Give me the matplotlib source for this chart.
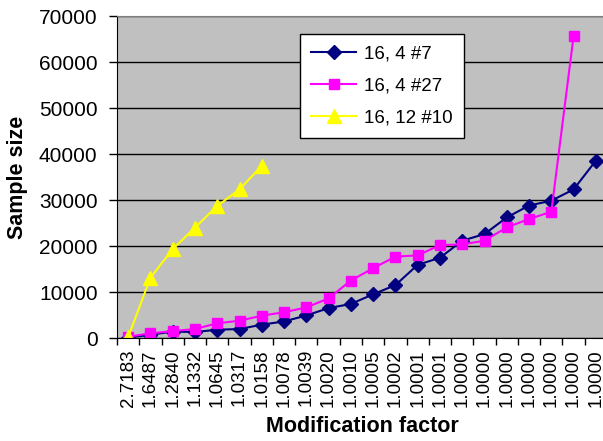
import matplotlib.pyplot as plt
import numpy as np

plt.rcParams['font.family'] = ['Liberation Sans', 'DejaVu Sans']

# modification factors along the x axis
factors = ['2.7183', '1.6487', '1.2840', '1.1332', '1.0645', '1.0317', '1.0158',
           '1.0078', '1.0039', '1.0020', '1.0010', '1.0005', '1.0002', '1.0001',
           '1.0001', '1.0000', '1.0000', '1.0000', '1.0000', '1.0000', '1.0000',
           '1.0000']

# sample sizes per run
run_16_4_7 = [100, 700, 1400, 1300, 1800, 1950, 2900, 3600, 4900, 6500, 7400,
              9500, 11500, 15900, 17450, 21150, 22600, 26200, 28800, 29850,
              32300, 38550]
run_16_4_27 = [300, 1000, 1500, 1950, 3200, 3750, 4850, 5600, 6650, 8600, 12500,
               15150, 17700, 17950, 20200, 20350, 21150, 24050, 25850, 27450,
               65650]
run_16_12_10 = [150, 13100, 19300, 24000, 28700, 32300, 37450]

x = np.arange(len(factors))

fig = plt.figure(figsize=(6.03, 4.41), dpi=100)
ax = fig.add_axes([117 / 603, 103 / 441, 490 / 603, 322 / 441])
ax.set_facecolor('#C0C0C0')

ax.plot(x[:len(run_16_4_7)], run_16_4_7, color='#000080', marker='D', ms=7,
        lw=1.5, label='16, 4 #7')
ax.plot(x[:len(run_16_4_27)], run_16_4_27, color='#FF00FF', marker='s', ms=7.5,
        lw=1.5, label='16, 4 #27')
ax.plot(x[:len(run_16_12_10)], run_16_12_10, color='#FFFF00', marker='^', ms=10,
        lw=1.5, label='16, 12 #10')

ax.set_xlim(-0.5, len(factors) - 0.5)
ax.set_ylim(0, 70000)
ax.set_yticks(np.arange(0, 70001, 10000))
ax.grid(axis='y', color='black', lw=1)
ax.set_axisbelow(True)

ax.set_xticks(x)
ax.set_xticklabels(factors, rotation=90, fontsize=13.5)
ax.set_xticks(np.arange(-0.5, len(factors)), minor=True)
ax.tick_params(axis='x', which='major', length=0, pad=8)
ax.tick_params(axis='x', which='minor', length=5, width=1, direction='out')
ax.tick_params(axis='y', length=6, width=1, direction='out', labelsize=15, pad=8)

ax.spines['right'].set_visible(False)
ax.spines['top'].set_color('#808080')
ax.spines['left'].set_color('black')
ax.spines['bottom'].set_color('black')

ax.set_xlabel('Modification factor', fontsize=15.5, fontweight='bold', labelpad=7)
ax.set_ylabel('Sample size', fontsize=15.5, fontweight='bold', labelpad=8)

leg = ax.legend(loc='upper left', bbox_to_anchor=(300 / 603, 1 - 34 / 441),
                bbox_transform=fig.transFigure, borderaxespad=0, fontsize=13.5,
                fancybox=False, framealpha=1, edgecolor='black',
                handlelength=2.4, labelspacing=0.8, borderpad=0.6,
                handletextpad=0.4)
leg.get_frame().set_linewidth(1)

fig.savefig('out.png', dpi=100)
